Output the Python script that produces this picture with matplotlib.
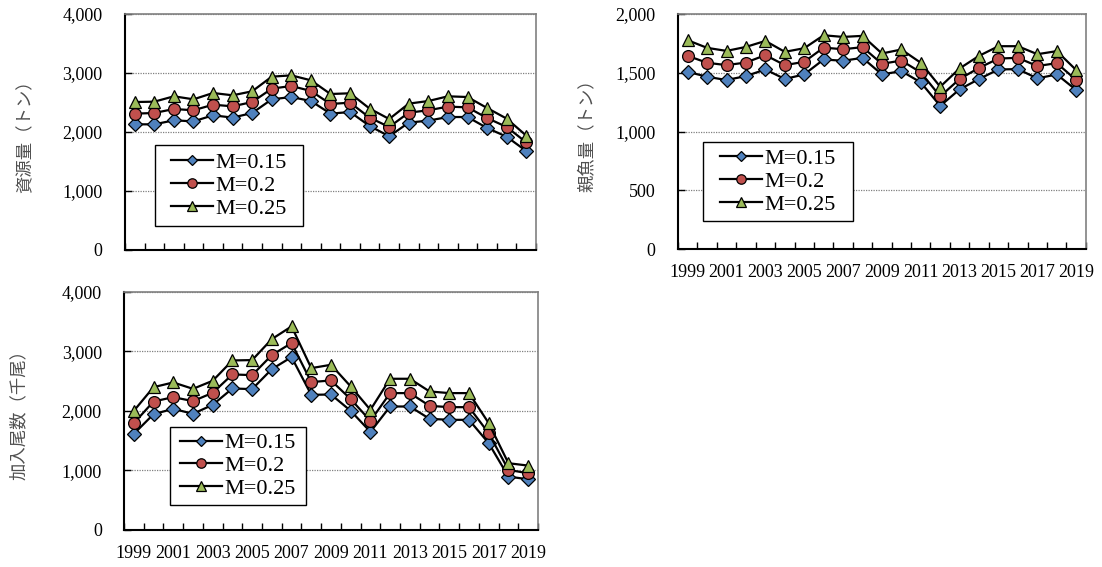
import matplotlib.pyplot as plt
import numpy as np
from matplotlib.patches import Rectangle
from matplotlib.ticker import FuncFormatter

plt.rcParams["font.family"] = ["Liberation Serif", "Noto Sans CJK JP"]

years = list(range(1999, 2020))
m_labels = ["M=0.15", "M=0.2", "M=0.25"]

# 資源量 (t)
biomass_015 = [2130, 2130, 2198, 2180, 2283, 2244, 2322, 2554, 2593, 2525, 2311,
               2339, 2102, 1927, 2159, 2193, 2254, 2254, 2068, 1920, 1678]
biomass_020 = [2311, 2322, 2390, 2368, 2463, 2435, 2508, 2735, 2780, 2695, 2475,
               2497, 2243, 2085, 2328, 2368, 2430, 2418, 2237, 2085, 1825]
biomass_025 = [2508, 2514, 2605, 2554, 2661, 2622, 2690, 2938, 2960, 2876, 2644,
               2656, 2397, 2220, 2481, 2525, 2605, 2593, 2407, 2227, 1939]

# 親魚量 (t)
ssb_015 = [1508, 1466, 1438, 1472, 1528, 1447, 1486, 1613, 1602, 1627, 1486,
           1514, 1418, 1218, 1359, 1447, 1528, 1531, 1452, 1486, 1353]
ssb_020 = [1644, 1585, 1565, 1587, 1650, 1565, 1593, 1714, 1700, 1718, 1576,
           1604, 1503, 1299, 1447, 1542, 1621, 1627, 1557, 1582, 1438]
ssb_025 = [1777, 1712, 1686, 1720, 1771, 1678, 1709, 1819, 1805, 1814, 1664,
           1698, 1585, 1381, 1537, 1644, 1726, 1726, 1658, 1684, 1523]

# 加入尾数 (千尾)
recruit_015 = [1615, 1946, 2036, 1952, 2103, 2378, 2367, 2703, 2905, 2271, 2277,
               2002, 1649, 2075, 2075, 1868, 1851, 1851, 1458, 897, 852]
recruit_020 = [1795, 2159, 2232, 2165, 2305, 2614, 2602, 2939, 3141, 2485, 2513,
               2199, 1834, 2300, 2300, 2086, 2064, 2064, 1626, 1010, 953]
recruit_025 = [2002, 2400, 2479, 2372, 2507, 2849, 2855, 3208, 3421, 2720, 2776,
               2412, 2019, 2541, 2541, 2328, 2300, 2300, 1795, 1122, 1082]

styles = [
    dict(marker="D", markerfacecolor="#4F81BD", markersize=7.0),
    dict(marker="o", markerfacecolor="#C0504D", markersize=8.5),
    dict(marker="^", markerfacecolor="#9BBB59", markersize=9.0),
]


def draw_panel(ax, series, ymax, ystep, ylabel, box, show_years, labelpad):
    x = np.arange(len(years))
    for values, label, st in zip(series, m_labels, styles):
        ax.plot(x, values, color="black", linewidth=1.6, label=label,
                markeredgecolor="black", markeredgewidth=0.9, **st)

    ax.set_xlim(-0.5, len(years) - 0.5)
    ax.set_ylim(0, ymax)
    ax.set_yticks(np.arange(0, ymax + 1, ystep))
    ax.yaxis.set_major_formatter(FuncFormatter(lambda v, p: f"{int(v):,}"))
    ax.yaxis.grid(True, color="#808080", linestyle=(0, (1, 1)), linewidth=0.9)
    ax.set_axisbelow(True)

    # tick marks sit on category boundaries, year labels under every second point
    ax.set_xticks(np.arange(-0.5, len(years), 1.0))
    ax.set_xticklabels([])
    ax.set_xticks(x[::2], minor=True)
    if show_years:
        ax.set_xticklabels([str(y) for y in years[::2]], minor=True)
    ax.tick_params(axis="x", which="major", direction="in", length=5, width=1)
    ax.tick_params(axis="x", which="minor", length=0, pad=11, labelsize=13)
    ax.tick_params(axis="y", direction="in", length=5, width=1, pad=16, labelsize=13)

    for side in ("left", "bottom"):
        ax.spines[side].set_color("black")
        ax.spines[side].set_linewidth(1.5)
    for side in ("top", "right"):
        ax.spines[side].set_color("#808080")
        ax.spines[side].set_linewidth(1.2)

    ax.set_ylabel(ylabel, family=["Noto Sans CJK JP"], fontsize=12.5,
                  color="#505050", labelpad=labelpad)

    # legend box drawn separately so the side padding can be wider than top/bottom
    x0, y0, x1, y1 = box
    ax.add_patch(Rectangle((x0, y0), x1 - x0, y1 - y0, transform=ax.transAxes,
                           facecolor="white", edgecolor="black", linewidth=1.0,
                           zorder=4))
    leg = ax.legend(loc="center", bbox_to_anchor=((x0 + x1) / 2, (y0 + y1) / 2),
                    frameon=False, fontsize=16, handlelength=1.9,
                    handletextpad=0.1, labelspacing=0.1, borderpad=0,
                    markerscale=0.8)
    leg.set_zorder(5)


fig = plt.figure(figsize=(11.02, 5.67), dpi=100)

ax1 = fig.add_axes([0.1134, 0.5591, 0.3730, 0.4162])
draw_panel(ax1, [biomass_015, biomass_020, biomass_025], 4000, 1000,
           "資源量（トン）", (0.073, 0.102, 0.433, 0.445), False, 20)

ax2 = fig.add_axes([0.6152, 0.5608, 0.3702, 0.4145])
draw_panel(ax2, [ssb_015, ssb_020, ssb_025], 2000, 500,
           "親魚量（トン）", (0.061, 0.119, 0.429, 0.455), True, 14)

ax3 = fig.add_axes([0.1125, 0.0653, 0.3757, 0.4198])
draw_panel(ax3, [recruit_015, recruit_020, recruit_025], 4000, 1000,
           "加入尾数（千尾）", (0.111, 0.105, 0.440, 0.433), True, 24)

fig.savefig("out.png", dpi=100)
